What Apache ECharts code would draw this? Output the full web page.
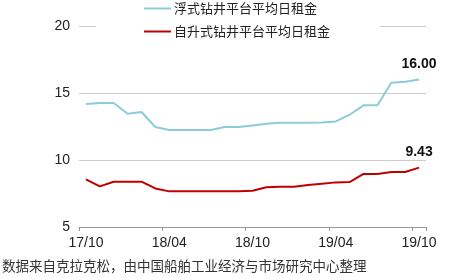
<!DOCTYPE html>
<html><head><meta charset="utf-8">
<script src="https://cdn.jsdelivr.net/npm/echarts@6/dist/echarts.min.js"></script>
<style>html,body{margin:0;padding:0;background:#fff}#c{width:450px;height:278px}</style>
</head><body><div id="c"></div>
<script>
var categories = ['17/10','17/11','17/12','18/01','18/02','18/03','18/04','18/05','18/06','18/07','18/08','18/09','18/10','18/11','18/12','19/01','19/02','19/03','19/04','19/05','19/06','19/07','19/08','19/09','19/10'];
var floaterRates = [14.18,14.25,14.25,13.45,13.58,12.46,12.24,12.24,12.24,12.24,12.46,12.46,12.58,12.70,12.78,12.78,12.78,12.80,12.88,13.38,14.08,14.08,15.77,15.84,16.00];
var jackupRates = [8.55,8.03,8.38,8.38,8.38,7.88,7.66,7.66,7.66,7.66,7.66,7.66,7.71,7.96,8.00,8.00,8.13,8.23,8.33,8.35,8.96,8.96,9.10,9.10,9.43];
var seriesNames = ['浮式钻井平台平均日租金','自升式钻井平台平均日租金'];
var yTicks = {min:5, max:20, interval:5};
var sourceNote = '数据来自克拉克松，由中国船舶工业经济与市场研究中心整理';

var chart = echarts.init(document.getElementById('c'), null, {renderer:'canvas'});
function lastLabel(arr){
  return arr.map(function(v,i){
    if(i===arr.length-1){
      return {value:v, label:{show:true, position:'top', distance:8, formatter:function(p){return Number(p.value).toFixed(2);}, fontSize:14, fontWeight:'bold', color:'#111', fontFamily:'Liberation Sans, Arial, sans-serif'}};
    }
    return v;
  });
}
chart.setOption({
  animation:false,
  grid:{left:79, right:24, top:26, bottom:51, containLabel:false},
  legend:{
    orient:'vertical', left:96, top:0,
    padding:[2,50,4,48], backgroundColor:'#fff',
    itemWidth:27, itemHeight:14, itemGap:10,
    icon:'path://M0,6 L27,6 L27,8 L0,8 Z',
    textStyle:{fontSize:13, color:'#222', fontFamily:'Noto Sans CJK SC, sans-serif', padding:[0,0,0,-2]},
    data:seriesNames
  },
  xAxis:{
    type:'category', data:categories, boundaryGap:true,
    axisLine:{lineStyle:{color:'#999', width:1}},
    axisTick:{show:true, interval:5, length:4, lineStyle:{color:'#999'}},
    axisLabel:{interval:5, fontSize:14, color:'#222', margin:9, fontFamily:'Liberation Sans, Arial, sans-serif'}
  },
  yAxis:{
    type:'value', min:yTicks.min, max:yTicks.max, interval:yTicks.interval,
    axisLine:{show:false}, axisTick:{show:false},
    splitLine:{lineStyle:{color:'#ccc', width:1}},
    axisLabel:{fontSize:14, color:'#222', margin:9, fontFamily:'Liberation Sans, Arial, sans-serif'}
  },
  graphic:[{type:'text', left:2, top:259, style:{text:sourceNote, fontSize:13.5, fill:'#333', fontFamily:'Noto Sans CJK SC, sans-serif'}}],
  series:[
    {name:seriesNames[0], type:'line', data:lastLabel(floaterRates), symbol:'circle', symbolSize:0, showSymbol:true, lineStyle:{color:'#8ECBDA', width:2}, itemStyle:{color:'#8ECBDA'}},
    {name:seriesNames[1], type:'line', data:lastLabel(jackupRates), symbol:'circle', symbolSize:0, showSymbol:true, lineStyle:{color:'#C00000', width:2}, itemStyle:{color:'#C00000'}}
  ]
});
</script></body></html>
